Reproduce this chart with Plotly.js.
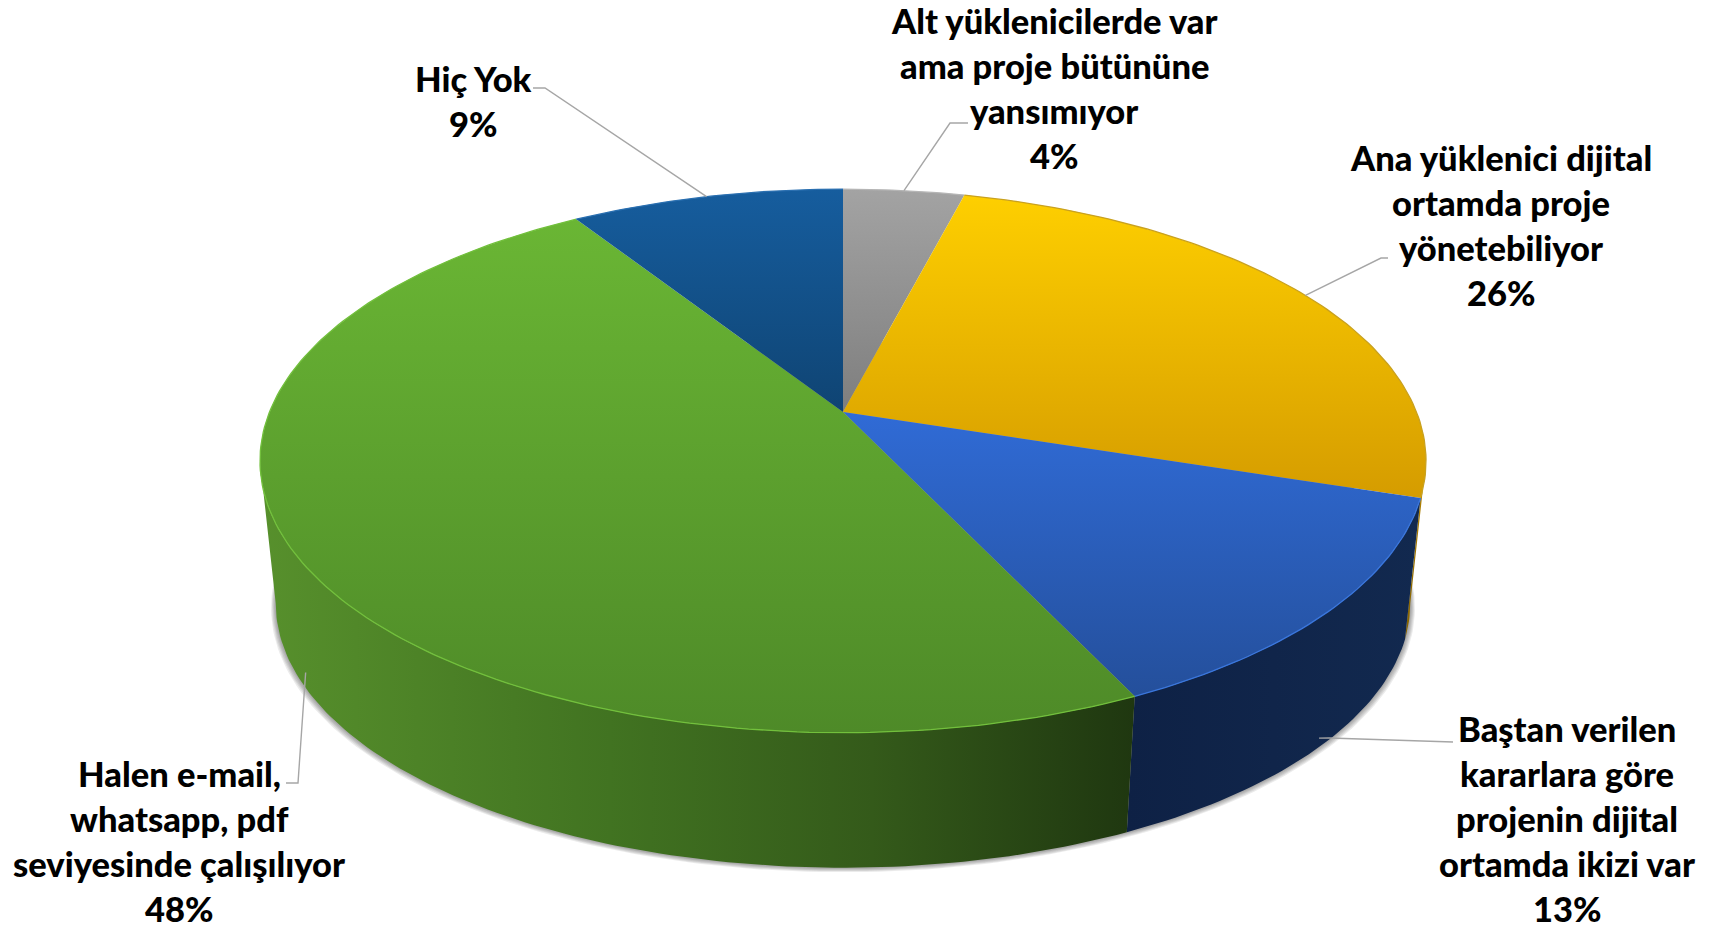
<!DOCTYPE html>
<html><head><meta charset="utf-8">
<script src="https://cdn.plot.ly/plotly-3.0.1.min.js"></script>
<style>html,body{margin:0;padding:0;background:#fff;overflow:hidden}#c{width:1721px;height:930px}</style>
</head><body><div id="c"></div>
<script>
// ---- data ----
const categories = ["Alt yüklenicilerde var ama proje bütününe yansımıyor","Ana yüklenici dijital ortamda proje yönetebiliyor","Baştan verilen kararlara göre projenin dijital ortamda ikizi var","Halen e-mail, whatsapp, pdf seviyesinde çalışılıyor","Hiç Yok"];
const shares = [4, 26, 13, 48, 9];
const labelLines = [
  ["Alt yüklenicilerde var","ama proje bütününe","yansımıyor"],
  ["Ana yüklenici dijital","ortamda proje","yönetebiliyor"],
  ["Baştan verilen","kararlara göre","projenin dijital","ortamda ikizi var"],
  ["Halen e-mail,","whatsapp, pdf","seviyesinde çalışılıyor"],
  ["Hiç Yok"]
];
// ---- styles and layout ----
const topColors = [["#a3a3a3","#7e7e7e"],["#fecf00","#d59c00"],["#306bd6","#244f9b"],["#6ab634","#4e8a28"],["#165d9e","#0f4473"]];
const sideColors = [[[0,"#6e6e6e"],[1,"#6e6e6e"]],[[0,"#7f5f00"],[1,"#bb8a05"]],[[0,"#0e2145"],[1,"#12294f"]],[[0,"#57902c"],[.4,"#417321"],[.7,"#345a1a"],[1,"#1f3710"]],[[0,"#0f3a63"],[1,"#0f3a63"]]];
const rimColors = ["#b5b5b5","#c9a11f","#3a76dc","#72c03c","#2a6fb0"];
const labelX = [1054,1501,1567,179,473];
const labelY = [20,157,728,773,78];
const lineGap = 45;
const leaderElbows = [[[950,123],[968,123]],[[1381,258],[1388,258]],[[1329,738],[1453,742]],[[298,783],[286,783]],[[545,88],[533,88]]];
const leaderDepth = [0,0,.93,.87,0];
const FONT = 'Lato,"Open Sans",sans-serif';
// projection of the disc, in plot units
const O = {x:843,y:412,A:573.5,B:263,p:0.18,s:0.973,vy:5733};
function topPt(deg){const t=deg*Math.PI/180,X=Math.sin(t),Y=Math.cos(t),w=1+O.p*Y;return [O.x+O.A*X/w,O.y-O.B*Y/w];}
function low(deg,d=1,k=0,dy=0){const q=topPt(deg),s=1-(1-O.s)*d+k;return [O.x+(q[0]-O.x)*s,O.vy+(q[1]-O.vy)*(1-(1-O.s)*d)+dy];}
function arc(a,b,f){const n=Math.max(2,Math.ceil(Math.abs(b-a)));const r=[];for(let i=0;i<=n;i++)r.push(f(a+(b-a)*i/n));return r;}
function xs(P){return P.map(p=>p[0]);} function ys(P){return P.map(p=>p[1]);}
const total = shares.reduce((a,b)=>a+b,0);
let acc=0; const spans = shares.map(v=>{const a=acc/total*360;acc+=v;return [a,acc/total*360];});
const tangent = Math.acos(-O.p)*180/Math.PI;
const traces=[];
// soft shadow
for(let i=5;i>=1;i--){
  const P=arc(0,360,d=>low(d,1,i*0.0016,i*0.9));
  traces.push({x:xs(P),y:ys(P),mode:'lines',fill:'toself',fillcolor:'rgba(0,0,0,0.08)',line:{width:0},hoverinfo:'skip',showlegend:false});
}
// side walls, only the part that faces the viewer
spans.forEach((s,i)=>{
  const a=Math.max(s[0],tangent),b=Math.min(s[1],360-tangent);
  if(b<=a)return;
  const P=arc(a,b,d=>topPt(d)).concat(arc(b,a,d=>low(d)));
  traces.push({x:xs(P),y:ys(P),mode:'lines',fill:'toself',line:{width:0},
    fillgradient:{type:'horizontal',colorscale:sideColors[i]},hoverinfo:'skip',showlegend:false});
});
// top faces
spans.forEach((s,i)=>{
  const P=[[O.x,O.y]].concat(arc(s[0],s[1],topPt)).concat([[O.x,O.y]]);
  traces.push({x:xs(P),y:ys(P),mode:'lines',fill:'toself',line:{width:0},name:categories[i],
    text:categories[i]+': '+shares[i]+'%',hoverinfo:'text',
    fillgradient:{type:'vertical',colorscale:[[0,topColors[i][1]],[1,topColors[i][0]]]},showlegend:false});
});
// rims
spans.forEach((s,i)=>{
  const P=arc(s[0],s[1],topPt);
  traces.push({x:xs(P),y:ys(P),mode:'lines',line:{width:1.3,color:rimColors[i]},hoverinfo:'skip',showlegend:false});
});
// leaders
spans.forEach((s,i)=>{
  const P=[low((s[0]+s[1])/2,leaderDepth[i])].concat(leaderElbows[i]);
  traces.push({x:xs(P),y:ys(P),mode:'lines',line:{width:1.4,color:'#a6a6a6'},hoverinfo:'skip',showlegend:false});
});
// labels
const annotations=[];
labelLines.forEach((lines,i)=>{
  lines.concat([shares[i]+'%']).forEach((t,j)=>{
    annotations.push({x:labelX[i],y:labelY[i]+j*lineGap,text:t,showarrow:false,xanchor:'center',yanchor:'middle',
      font:{family:FONT,size:34.5,weight:900,color:'#000'}});
  });
});
Plotly.newPlot('c',traces,{
  width:1721,height:930,margin:{l:0,r:0,t:0,b:0},paper_bgcolor:'#fff',plot_bgcolor:'#fff',showlegend:false,
  xaxis:{range:[0,1721],visible:false,fixedrange:true},
  yaxis:{range:[930,0],visible:false,fixedrange:true},
  annotations
},{displayModeBar:false});
</script></body></html>
